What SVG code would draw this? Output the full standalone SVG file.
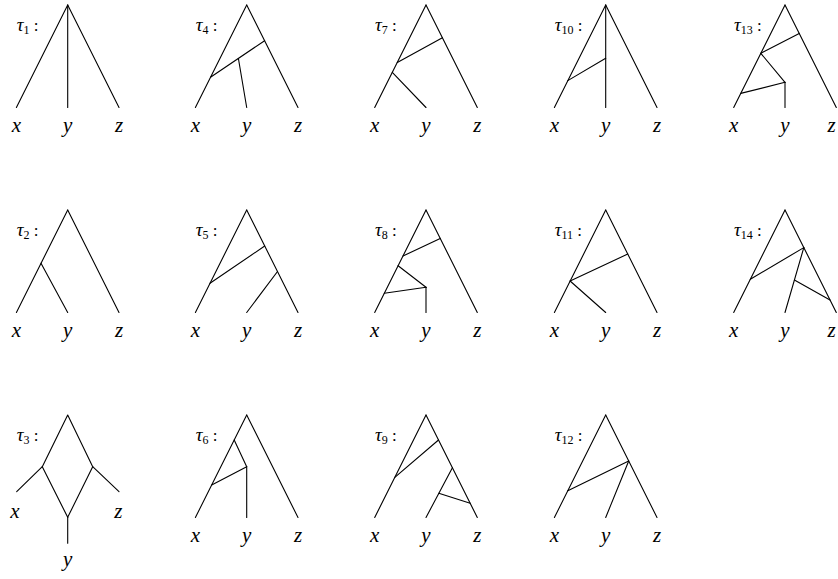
<svg xmlns="http://www.w3.org/2000/svg" width="838" height="579" viewBox="0 0 838 579">
<style>
line, polyline { stroke: #000; stroke-width: 1.1; fill: none; stroke-linecap: round; stroke-linejoin: round; }
text { font-family: "Liberation Serif", "DejaVu Serif", serif; font-style: italic; font-size: 21px; fill: #000; }
.leaf { text-anchor: middle; }
.tau { font-size: 19px; }
.sub { font-size: 12px; font-style: normal; }
.colon { font-style: normal; font-size: 17px; }
</style>
<rect width="838" height="579" fill="#fff"/>

<!-- tau1 -->
<g id="tau1" transform="translate(67.7,5)">
  <text class="tau" x="-51" y="26">τ<tspan class="sub" dy="3">1</tspan><tspan class="colon" dy="-3"> :</tspan></text>
  <g class="edges">
    <line x1="0" y1="0" x2="-51.3" y2="102.5"/>
    <line x1="0" y1="0" x2="51.3" y2="102.5"/>
    <line x1="0" y1="0" x2="0" y2="102.5"/>
  </g>
  <text class="leaf" x="-51.3" y="127">x</text><text class="leaf" x="0" y="127">y</text><text class="leaf" x="51.3" y="127">z</text>
</g>

<!-- tau4 -->
<g id="tau4" transform="translate(246.7,5)">
  <text class="tau" x="-51" y="26">τ<tspan class="sub" dy="3">4</tspan><tspan class="colon" dy="-3"> :</tspan></text>
  <g class="edges">
    <line x1="0" y1="0" x2="-51.3" y2="102.5"/>
    <line x1="0" y1="0" x2="51.3" y2="102.5"/>
    <line x1="-36.2" y1="72.3" x2="17.9" y2="35.7"/>
    <line x1="-8.3" y1="53.5" x2="0" y2="102.5"/>
  </g>
  <text class="leaf" x="-51.3" y="127">x</text><text class="leaf" x="0" y="127">y</text><text class="leaf" x="51.3" y="127">z</text>
</g>

<!-- tau7 -->
<g id="tau7" transform="translate(426,5)">
  <text class="tau" x="-51" y="26">τ<tspan class="sub" dy="3">7</tspan><tspan class="colon" dy="-3"> :</tspan></text>
  <g class="edges">
    <line x1="0" y1="0" x2="-51.3" y2="102.5"/>
    <line x1="0" y1="0" x2="51.3" y2="102.5"/>
    <line x1="-28.7" y1="57.4" x2="16.4" y2="32.7"/>
    <line x1="-33.7" y1="67.3" x2="0" y2="102.5"/>
  </g>
  <text class="leaf" x="-51.3" y="127">x</text><text class="leaf" x="0" y="127">y</text><text class="leaf" x="51.3" y="127">z</text>
</g>

<!-- tau10 -->
<g id="tau10" transform="translate(605.7,5)">
  <text class="tau" x="-51" y="26">τ<tspan class="sub" dy="3">10</tspan><tspan class="colon" dy="-3"> :</tspan></text>
  <g class="edges">
    <line x1="0" y1="0" x2="-51.3" y2="102.5"/>
    <line x1="0" y1="0" x2="51.3" y2="102.5"/>
    <line x1="0" y1="0" x2="0" y2="102.5"/>
    <line x1="-37.9" y1="75.6" x2="0" y2="53.3"/>
  </g>
  <text class="leaf" x="-51.3" y="127">x</text><text class="leaf" x="0" y="127">y</text><text class="leaf" x="51.3" y="127">z</text>
</g>

<!-- tau13 -->
<g id="tau13" transform="translate(785,5)">
  <text class="tau" x="-51" y="26">τ<tspan class="sub" dy="3">13</tspan><tspan class="colon" dy="-3"> :</tspan></text>
  <g class="edges">
    <line x1="0" y1="0" x2="-51.3" y2="102.5"/>
    <line x1="0" y1="0" x2="51.3" y2="102.5"/>
    <line x1="14.2" y1="28.4" x2="-24.2" y2="48.3"/>
    <line x1="-24.2" y1="48.3" x2="0" y2="77.3"/>
    <line x1="0" y1="77.3" x2="0" y2="102.5"/>
    <line x1="0" y1="77.3" x2="-44.2" y2="88.4"/>
  </g>
  <text class="leaf" x="-51.3" y="127">x</text><text class="leaf" x="0" y="127">y</text><text class="leaf" x="46.5" y="127">z</text>
</g>

<!-- tau2 -->
<g id="tau2" transform="translate(67.7,210)">
  <text class="tau" x="-51" y="26">τ<tspan class="sub" dy="3">2</tspan><tspan class="colon" dy="-3"> :</tspan></text>
  <g class="edges">
    <line x1="0" y1="0" x2="-51.3" y2="102.5"/>
    <line x1="0" y1="0" x2="51.3" y2="102.5"/>
    <line x1="-26.7" y1="53.3" x2="0" y2="102.5"/>
  </g>
  <text class="leaf" x="-51.3" y="127">x</text><text class="leaf" x="0" y="127">y</text><text class="leaf" x="51.3" y="127">z</text>
</g>

<!-- tau5 -->
<g id="tau5" transform="translate(246.7,210)">
  <text class="tau" x="-51" y="26">τ<tspan class="sub" dy="3">5</tspan><tspan class="colon" dy="-3"> :</tspan></text>
  <g class="edges">
    <line x1="0" y1="0" x2="-51.3" y2="102.5"/>
    <line x1="0" y1="0" x2="51.3" y2="102.5"/>
    <line x1="-36.7" y1="73.3" x2="18" y2="36"/>
    <line x1="30.8" y1="61.5" x2="0" y2="102.5"/>
  </g>
  <text class="leaf" x="-51.3" y="127">x</text><text class="leaf" x="0" y="127">y</text><text class="leaf" x="51.3" y="127">z</text>
</g>

<!-- tau8 -->
<g id="tau8" transform="translate(426,210)">
  <text class="tau" x="-51" y="26">τ<tspan class="sub" dy="3">8</tspan><tspan class="colon" dy="-3"> :</tspan></text>
  <g class="edges">
    <line x1="0" y1="0" x2="-51.3" y2="102.5"/>
    <line x1="0" y1="0" x2="51.3" y2="102.5"/>
    <line x1="14.2" y1="28.4" x2="-23" y2="46"/>
    <line x1="-27.9" y1="55.7" x2="0" y2="77.3"/>
    <line x1="0" y1="77.3" x2="0" y2="102.5"/>
    <line x1="0" y1="77.3" x2="-41.7" y2="83.3"/>
  </g>
  <text class="leaf" x="-51.3" y="127">x</text><text class="leaf" x="0" y="127">y</text><text class="leaf" x="51.3" y="127">z</text>
</g>

<!-- tau11 -->
<g id="tau11" transform="translate(605.7,210)">
  <text class="tau" x="-51" y="26">τ<tspan class="sub" dy="3">11</tspan><tspan class="colon" dy="-3"> :</tspan></text>
  <g class="edges">
    <line x1="0" y1="0" x2="-51.3" y2="102.5"/>
    <line x1="0" y1="0" x2="51.3" y2="102.5"/>
    <line x1="22.1" y1="44" x2="-35.6" y2="71"/>
    <line x1="-35.6" y1="71" x2="0" y2="102.5"/>
  </g>
  <text class="leaf" x="-51.3" y="127">x</text><text class="leaf" x="0" y="127">y</text><text class="leaf" x="51.3" y="127">z</text>
</g>

<!-- tau14 -->
<g id="tau14" transform="translate(785,210)">
  <text class="tau" x="-51" y="26">τ<tspan class="sub" dy="3">14</tspan><tspan class="colon" dy="-3"> :</tspan></text>
  <g class="edges">
    <line x1="0" y1="0" x2="-51.3" y2="102.5"/>
    <line x1="0" y1="0" x2="51.3" y2="102.5"/>
    <line x1="18.8" y1="37.6" x2="-34.7" y2="69.3"/>
    <line x1="18.8" y1="37.6" x2="0" y2="102.5"/>
    <line x1="9.4" y1="70" x2="45" y2="90"/>
  </g>
  <text class="leaf" x="-51.3" y="127">x</text><text class="leaf" x="0" y="127">y</text><text class="leaf" x="46.5" y="127">z</text>
</g>

<!-- tau3 -->
<g id="tau3" transform="translate(67.7,415)">
  <text class="tau" x="-51" y="26">τ<tspan class="sub" dy="3">3</tspan><tspan class="colon" dy="-3"> :</tspan></text>
  <g class="edges">
    <polyline points="-51,76.7 -25.4,51.7 0,0 25,51.7 51.3,76.7"/>
    <polyline points="-25.4,51.7 0,102.3 25,51.7"/>
    <line x1="0" y1="102.3" x2="0" y2="128.3"/>
  </g>
  <text class="leaf" x="-52.7" y="102.5">x</text><text class="leaf" x="0" y="151">y</text><text class="leaf" x="50.6" y="102.5">z</text>
</g>

<!-- tau6 -->
<g id="tau6" transform="translate(246.7,415)">
  <text class="tau" x="-51" y="26">τ<tspan class="sub" dy="3">6</tspan><tspan class="colon" dy="-3"> :</tspan></text>
  <g class="edges">
    <line x1="0" y1="0" x2="-51.3" y2="102.5"/>
    <line x1="0" y1="0" x2="51.3" y2="102.5"/>
    <line x1="-12.5" y1="25" x2="0" y2="51.7"/>
    <line x1="0" y1="51.7" x2="0" y2="102.5"/>
    <line x1="0" y1="51.7" x2="-35" y2="70"/>
  </g>
  <text class="leaf" x="-51.3" y="127">x</text><text class="leaf" x="0" y="127">y</text><text class="leaf" x="51.3" y="127">z</text>
</g>

<!-- tau9 -->
<g id="tau9" transform="translate(426,415)">
  <text class="tau" x="-51" y="26">τ<tspan class="sub" dy="3">9</tspan><tspan class="colon" dy="-3"> :</tspan></text>
  <g class="edges">
    <line x1="0" y1="0" x2="-51.3" y2="102.5"/>
    <line x1="0" y1="0" x2="51.3" y2="102.5"/>
    <line x1="12.5" y1="25" x2="-31.2" y2="62.3"/>
    <line x1="26.4" y1="52.7" x2="0" y2="102.5"/>
    <line x1="12.8" y1="78.3" x2="44.2" y2="88.3"/>
  </g>
  <text class="leaf" x="-51.3" y="127">x</text><text class="leaf" x="0" y="127">y</text><text class="leaf" x="51.3" y="127">z</text>
</g>

<!-- tau12 -->
<g id="tau12" transform="translate(605.7,415)">
  <text class="tau" x="-51" y="26">τ<tspan class="sub" dy="3">12</tspan><tspan class="colon" dy="-3"> :</tspan></text>
  <g class="edges">
    <line x1="0" y1="0" x2="-51.3" y2="102.5"/>
    <line x1="0" y1="0" x2="51.3" y2="102.5"/>
    <line x1="23" y1="46" x2="-37.9" y2="75.7"/>
    <line x1="23" y1="46" x2="0" y2="102.5"/>
  </g>
  <text class="leaf" x="-51.3" y="127">x</text><text class="leaf" x="0" y="127">y</text><text class="leaf" x="51.3" y="127">z</text>
</g>
</svg>
